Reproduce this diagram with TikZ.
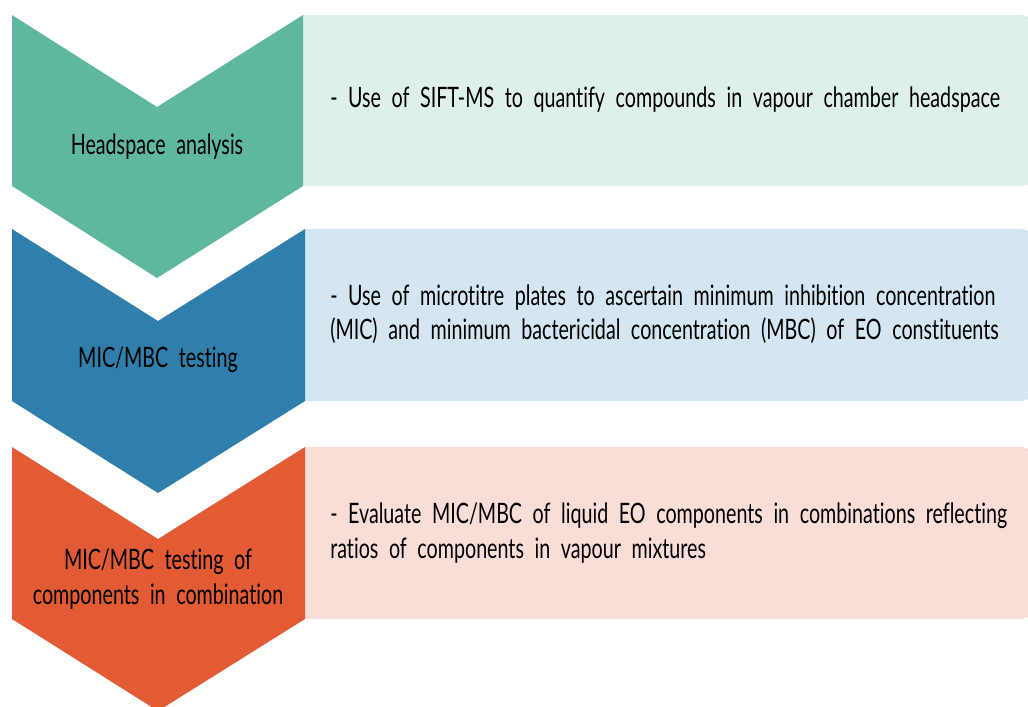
\documentclass[tikz,border=0pt]{standalone}
\usepackage{fontspec}
\setmainfont{Lato}[FakeStretch=0.70, WordSpace=2.1, Ligatures=NoCommon]
\usetikzlibrary{positioning}

\definecolor{headsp}{HTML}{5FB7A0}
\definecolor{headspbg}{HTML}{DEF0EB}
\definecolor{micmbc}{HTML}{2F7EAB}
\definecolor{micmbcbg}{HTML}{D3E6F1}
\definecolor{combo}{HTML}{E35B35}
\definecolor{combobg}{HTML}{F9DDD7}

\begin{document}
\begin{tikzpicture}[x=0.025cm,y=-0.025cm,
    label/.style={font=\fontsize{20}{24.5}\selectfont, align=center, inner sep=0pt},
    desc/.style={font=\fontsize{20}{24.5}\selectfont, align=left, inner sep=0pt, anchor=west}]
    \useasboundingbox (0,0) rectangle (1028,706);
    \clip (0,0) rectangle (1028,706);

    % detail panels, rounded only on the right
    \fill[headspbg] (303,15) [rounded corners=9] -- (1034,15) -- (1034,186) [sharp corners] -- (303,186) -- cycle;
    \fill[micmbcbg] (305,229) [rounded corners=9] -- (1034,229) -- (1034,401) [sharp corners] -- (305,401) -- cycle;
    \fill[combobg] (305,447) [rounded corners=9] -- (1034,447) -- (1034,619) [sharp corners] -- (305,619) -- cycle;

    % chevrons
    \fill[headsp] (12,15) -- (157,107) -- (303,15) -- (303,186) -- (157,278) -- (12,186) -- cycle;
    \fill[micmbc] (12,229) -- (158,321) -- (305,229) -- (305,401) -- (158,493) -- (12,401) -- cycle;
    \fill[combo] (12,447) -- (158,539) -- (305,447) -- (305,619) -- (158,711) -- (12,619) -- cycle;

    \node[label] (hsa) at (157,147) {Headspace analysis};
    \node[label] (mic) at (158,360) {MIC/MBC testing};
    \node[label] (cmb) at (158,579) {MIC/MBC testing of\\components in combination};

    \node[desc] (hsatxt) at (330,100) {- Use of SIFT-MS to quantify compounds in vapour chamber headspace};
    \node[desc] (mictxt) at (330,314) {- Use of microtitre plates to ascertain minimum inhibition concentration\\(MIC) and minimum bactericidal concentration (MBC) of EO constituents};
    \node[desc] (cmbtxt) at (330,533) {- Evaluate MIC/MBC of liquid EO components in combinations reflecting\\ratios of components in vapour mixtures};
  \end{tikzpicture}
\end{document}
